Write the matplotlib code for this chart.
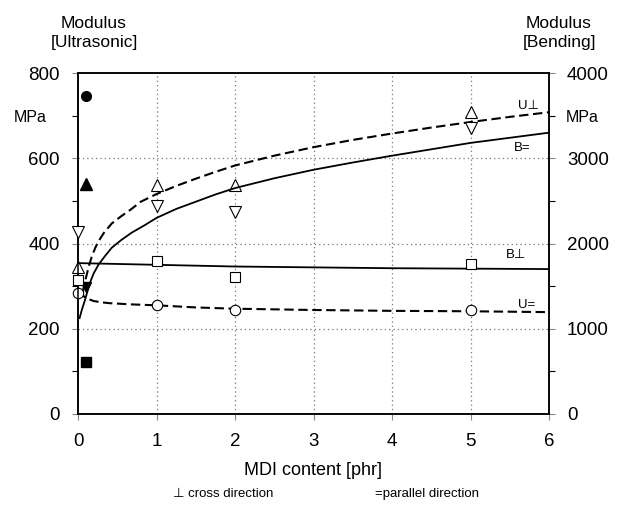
import matplotlib

matplotlib.use("Agg")
import matplotlib.pyplot as plt
from matplotlib.ticker import MultipleLocator

# --- data (ultrasonic modulus in MPa on left axis, bending modulus in MPa on right axis)
mdi_pts = [0, 1, 2, 5]
u_cross_pts = [346, 537, 537, 709]          # open up-triangles
u_par_pts = [285, 256, 244, 244]            # open circles
b_cross_pts = [1575, 1795, 1610, 1760]      # open squares (bending)
b_par_pts = [2140, 2440, 2370, 3355]        # open down-triangles (bending)

ref_x = [0.1]
ref_circle = [745]
ref_triangle = [540]
ref_down = [298]
ref_square = [122]

# fitted curves
u_cross_x = [0.06, 0.08, 0.11, 0.14, 0.175, 0.22, 0.26, 0.33, 0.43, 0.55, 0.66, 0.8, 1,
             1.25, 1.5, 1.75, 2, 2.5, 3, 3.5, 4, 4.5, 5, 5.5, 6]
u_cross_y = [284, 305, 326, 348, 369, 390, 405, 425, 447, 464, 478, 498, 516,
             535, 552, 568, 583, 606, 626, 643, 658, 672, 685, 697, 708]
b_par_x = [0.02, 0.05, 0.09, 0.15, 0.2, 0.26, 0.35, 0.43, 0.55, 0.68, 0.85, 1,
           1.25, 1.5, 1.75, 2, 2.5, 3, 3.5, 4, 4.5, 5, 5.5, 6]
b_par_y = [1125, 1225, 1340, 1535, 1650, 1750, 1860, 1950, 2040, 2125, 2215, 2300,
           2405, 2490, 2575, 2650, 2765, 2865, 2950, 3030, 3105, 3180, 3240, 3300]
b_cross_x = [0, 1, 2, 3, 4, 5, 6]
b_cross_y = [1770, 1750, 1730, 1720, 1710, 1705, 1700]
u_par_x = [0.02, 0.05, 0.1, 0.2, 0.3, 0.4, 0.7, 1, 1.5, 2, 3, 4, 5, 6]
u_par_y = [290, 280, 272, 265, 262, 260, 257, 255, 250, 247, 244, 242, 241, 239]

plt.rcParams["font.family"] = ["Liberation Sans", "DejaVu Sans"]

W, H = 625, 505
fig = plt.figure(figsize=(W / 100, H / 100), dpi=100)
ax = fig.add_axes([78 / W, 1 - 414 / H, (549 - 78) / W, (414 - 73) / H])
ax2 = ax.twinx()

ax.set_xlim(0, 6)
ax.set_ylim(0, 800)
ax2.set_ylim(0, 4000)

dash = (0, (4.5, 2.2))
ax.plot(u_cross_x, u_cross_y, color="black", lw=1.5, ls=dash, clip_on=False)
ax.plot(u_par_x, u_par_y, color="black", lw=1.5, ls=dash, clip_on=False)
ax2.plot(b_par_x, b_par_y, color="black", lw=1.3, clip_on=False)
ax2.plot(b_cross_x, b_cross_y, color="black", lw=1.3, clip_on=False)

ms = 8
kw = dict(ls="none", mfc="white", mec="black", mew=0.8, ms=ms, clip_on=False, zorder=5)
ax.plot(mdi_pts, u_cross_pts, marker="^", **kw)
ax.plot(mdi_pts, u_par_pts, marker="o", **{**kw, "ms": 7.5})
ax2.plot(mdi_pts, b_cross_pts, marker="s", **{**kw, "ms": 7.5})
ax2.plot(mdi_pts, b_par_pts, marker="v", **kw)

fk = dict(ls="none", color="black", clip_on=False, zorder=6)
ax.plot(ref_x, ref_circle, marker="o", ms=7, **fk)
ax.plot(ref_x, ref_triangle, marker="^", ms=8, **fk)
ax.plot(ref_x, ref_down, marker="v", ms=7, **fk)
ax.plot(ref_x, ref_square, marker="s", ms=7, **fk)

# grid
for xv in range(1, 6):
    ax.axvline(xv, color="#777777", lw=0.9, ls=(0, (1, 2.5)), zorder=0)
for yv in (200, 400, 600):
    ax.axhline(yv, color="#777777", lw=0.9, ls=(0, (1, 2.5)), zorder=0)

ax.set_xticks(range(7))
ax.yaxis.set_major_locator(MultipleLocator(200))
ax.yaxis.set_minor_locator(MultipleLocator(100))
ax2.yaxis.set_major_locator(MultipleLocator(1000))
ax2.yaxis.set_minor_locator(MultipleLocator(500))

ax.tick_params(axis="x", length=4, width=0.8, color="#888888", labelsize=13.5, pad=10)
ax.tick_params(axis="y", which="major", length=4, width=0.8, color="#888888", labelsize=13.5, pad=9)
ax.tick_params(axis="y", which="minor", length=4, width=0.8, color="black")
ax2.tick_params(axis="y", which="major", length=4, width=0.8, color="#888888", labelsize=13.5, pad=9)
ax2.tick_params(axis="y", which="minor", length=4, width=0.8, color="black")

for a in (ax, ax2):
    for s in a.spines.values():
        s.set_linewidth(1.1)

ax.set_xlabel("MDI content [phr]", fontsize=13, labelpad=8)

# axis texts
fig.text(94 / W, 1 - 33 / H, "Modulus\n[Ultrasonic]", ha="center", va="center",
         fontsize=12.5, linespacing=1.4)
fig.text(559 / W, 1 - 33 / H, "Modulus\n[Bending]", ha="center", va="center",
         fontsize=12.5, linespacing=1.4)
fig.text(30 / W, 1 - 118 / H, "MPa", ha="center", va="center", fontsize=11.5)
fig.text(582 / W, 1 - 118 / H, "MPa", ha="center", va="center", fontsize=11.5)

# curve labels
ax.text(5.6, 722, "U\u22a5", fontsize=9.5, ha="left", va="center")
ax.text(5.55, 624, "B=", fontsize=9.5, ha="left", va="center")
ax.text(5.45, 372, "B\u22a5", fontsize=9.5, ha="left", va="center")
ax.text(5.6, 255, "U=", fontsize=9.5, ha="left", va="center")

fig.text(173 / W, 1 - 494 / H, "\u22a5 cross direction", ha="left", va="center", fontsize=9.5)
fig.text(375 / W, 1 - 494 / H, "=parallel direction", ha="left", va="center", fontsize=9.5)

fig.savefig("out.png", dpi=100)
